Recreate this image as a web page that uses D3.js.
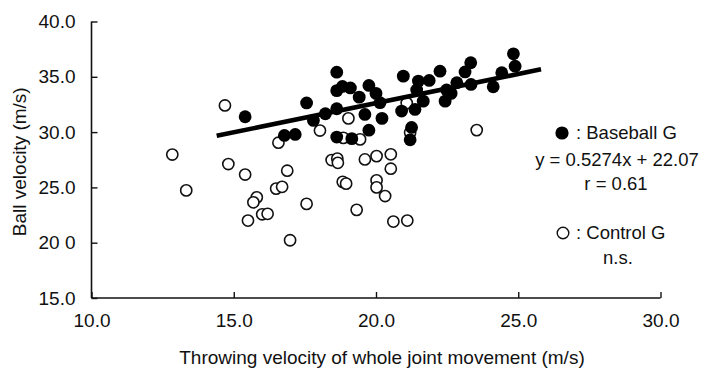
<!DOCTYPE html>
<html>
<head>
<meta charset="utf-8">
<script src="https://cdn.jsdelivr.net/npm/d3@7"></script>
<style>
  body { margin: 0; background: #fff; }
  svg text { font-family: "Liberation Sans", Arial, Helvetica, sans-serif; fill: #111; }
</style>
</head>
<body>
<div id="chart"></div>
<script>
// baseball group (filled circles)
const baseballX = [15.40, 17.56, 17.16, 16.78, 17.80, 18.22, 18.62, 18.62, 18.82, 18.62, 19.10, 19.41,
  19.75, 20.00, 19.61, 20.21, 19.75, 18.62, 19.15, 20.14, 20.96, 21.49, 21.87, 22.25, 21.43, 21.66,
  20.90, 21.37, 21.25, 21.20, 22.43, 22.48, 22.84, 22.64, 23.13, 23.33, 23.34, 24.12, 24.42, 24.83, 24.89];
const baseballY = [31.39, 32.64, 29.79, 29.70, 31.06, 31.66, 32.11, 35.42, 34.13, 33.75, 33.99, 33.16,
  34.22, 33.50, 31.60, 31.24, 30.17, 29.55, 29.41, 32.66, 35.06, 34.61, 34.67, 35.51, 33.81, 32.80,
  31.90, 32.05, 30.42, 29.30, 32.80, 33.81, 34.46, 33.50, 35.44, 36.27, 34.31, 34.10, 35.37, 37.08, 35.96];

// control group (open circles)
const controlX = [12.84, 13.33, 14.69, 14.81, 15.40, 15.81, 15.69, 16.00, 16.19, 15.50, 16.57, 16.88,
  16.49, 16.70, 17.56, 16.98, 18.03, 19.03, 18.44, 18.64, 18.66, 18.83, 18.95, 18.85, 19.44, 19.61,
  20.02, 20.52, 20.52, 20.02, 20.02, 20.32, 19.32, 20.61, 21.10, 21.08, 21.20, 23.54];
const controlY = [27.97, 24.73, 32.41, 27.11, 26.16, 24.10, 23.65, 22.57, 22.61, 22.00, 29.04, 26.51,
  24.89, 25.05, 23.51, 20.22, 30.14, 31.24, 27.47, 27.60, 27.22, 25.50, 25.34, 29.48, 29.34, 27.53,
  27.83, 27.99, 26.69, 25.64, 25.00, 24.22, 22.97, 21.91, 22.00, 32.62, 29.97, 30.18];

// regression for baseball G
const slope = 0.5274, intercept = 22.07;
const lineRange = [14.4, 25.8];

const xTicks = [10, 15, 20, 25, 30];
const xTickLabels = ["10.0", "15.0", "20.0", "25.0", "30.0"];
const yTicks = [15, 20, 25, 30, 35, 40];
const yTickLabels = ["15.0", "20 0", "25.0", "30.0", "35.0", "40.0"];

const legendLines = [": Baseball G", "y = 0.5274x + 22.07", "r = 0.61", ": Control G", "n.s."];

const width = 704, height = 369;
const svg = d3.select("#chart").append("svg")
  .attr("width", width).attr("height", height);

const x = d3.scaleLinear().domain([10, 30]).range([91.5, 660.5]);
const y = d3.scaleLinear().domain([15, 40]).range([298, 21.5]);

// axes
const xAxis = svg.append("g").attr("transform", "translate(0," + y(15) + ")")
  .call(d3.axisBottom(x).tickValues(xTicks).tickSize(-6).tickPadding(16)
    .tickFormat((d, i) => xTickLabels[i]));
const yAxis = svg.append("g").attr("transform", "translate(" + x(10) + ",0)")
  .call(d3.axisLeft(y).tickValues(yTicks).tickSize(-6).tickPadding(16)
    .tickFormat((d, i) => yTickLabels[i]));

[xAxis, yAxis].forEach(g => {
  g.select(".domain").attr("stroke", "#111").attr("stroke-width", 1.6);
  g.selectAll(".tick line").attr("stroke", "#111").attr("stroke-width", 1.4);
  g.selectAll(".tick text").style("font-size", "19px").attr("fill", "#111");
});
// domain path has outer ticks of size -6; redraw plain lines instead
xAxis.select(".domain").attr("d", "M" + x(10) + ",0H" + x(30));
yAxis.select(".domain").attr("d", "M0," + y(15) + "V" + y(40));
xAxis.selectAll(".tick text").attr("dy", "0.71em");

// titles
svg.append("text")
  .attr("x", x(20) + 6).attr("y", 364)
  .attr("text-anchor", "middle").style("font-size", "19px")
  .text("Throwing velocity of whole joint movement (m/s)");
svg.append("text")
  .attr("transform", "translate(26," + (y(27.5) + 2) + ") rotate(-90)")
  .attr("text-anchor", "middle").style("font-size", "19px")
  .text("Ball velocity (m/s)");

// control points
svg.append("g").selectAll("circle")
  .data(controlX.map((d, i) => [d, controlY[i]]))
  .enter().append("circle")
  .attr("cx", d => x(d[0])).attr("cy", d => y(d[1]))
  .attr("r", 5.6)
  .attr("fill", "#fff").attr("stroke", "#111").attr("stroke-width", 1.6);

// baseball points
svg.append("g").selectAll("circle")
  .data(baseballX.map((d, i) => [d, baseballY[i]]))
  .enter().append("circle")
  .attr("cx", d => x(d[0])).attr("cy", d => y(d[1]))
  .attr("r", 6.4)
  .attr("fill", "#000");

// regression line
svg.append("line")
  .attr("x1", x(lineRange[0])).attr("y1", y(slope * lineRange[0] + intercept))
  .attr("x2", x(lineRange[1])).attr("y2", y(slope * lineRange[1] + intercept))
  .attr("stroke", "#000").attr("stroke-width", 4.5);

// legend
const lg = svg.append("g");
lg.append("circle").attr("cx", 562).attr("cy", 133).attr("r", 6.6).attr("fill", "#000");
lg.append("circle").attr("cx", 563).attr("cy", 233).attr("r", 5.8)
  .attr("fill", "#fff").attr("stroke", "#111").attr("stroke-width", 1.4);
const legendPos = [[576, 139, "start"], [617, 166, "middle"], [616, 190, "middle"],
  [576, 239, "start"], [618, 264, "middle"]];
legendLines.forEach((t, i) => {
  lg.append("text")
    .attr("x", legendPos[i][0]).attr("y", legendPos[i][1])
    .attr("text-anchor", legendPos[i][2])
    .style("font-size", "18.5px")
    .text(t);
});
</script>
</body>
</html>
